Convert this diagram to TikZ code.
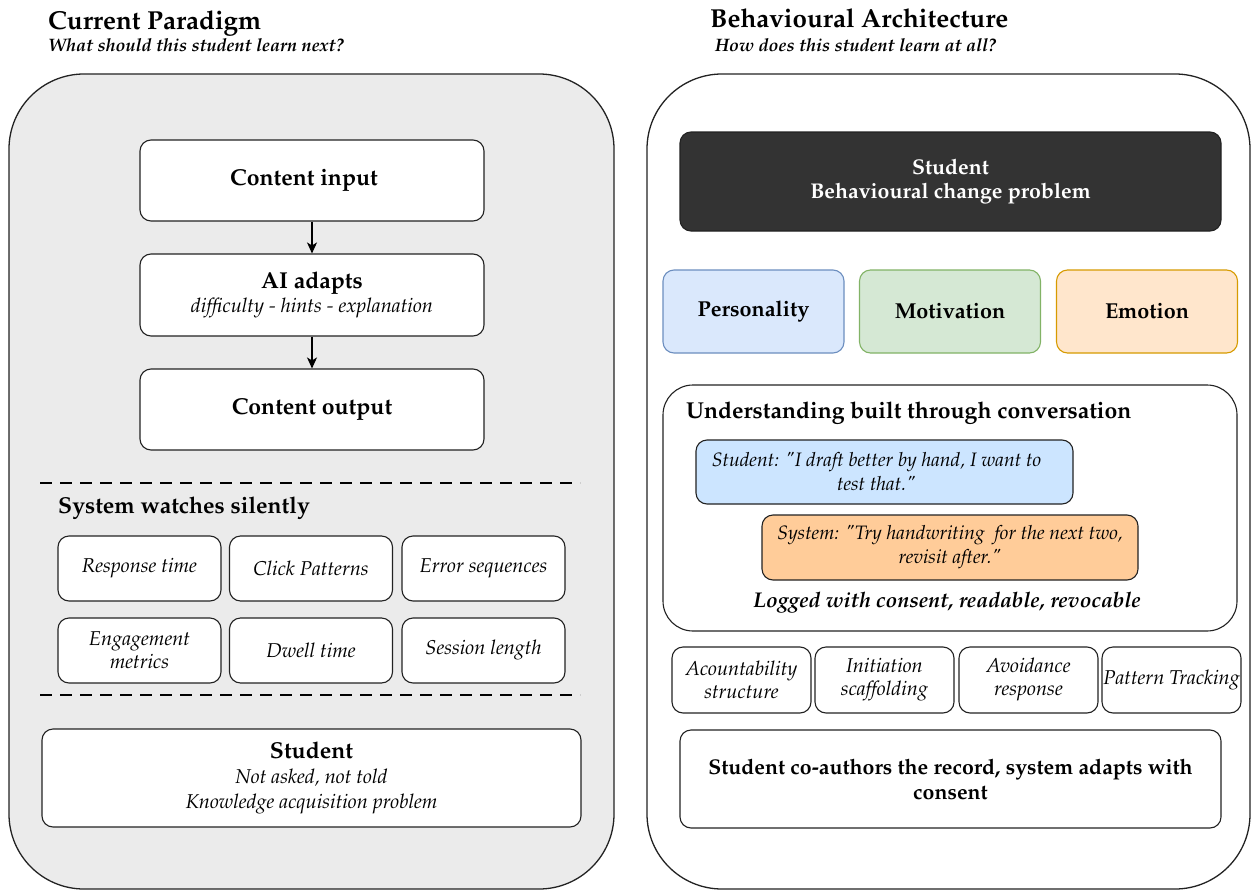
\documentclass[tikz,border=0pt]{standalone}
\usepackage[T1]{fontenc}
\usepackage{mathpazo}
\usetikzlibrary{arrows.meta}
\definecolor{panelgray}{HTML}{EBEBEB}
\definecolor{darkbox}{HTML}{333333}
\definecolor{blueF}{HTML}{DAE8FC}\definecolor{blueD}{HTML}{6C8EBF}
\definecolor{greenF}{HTML}{D5E8D4}\definecolor{greenD}{HTML}{82B366}
\definecolor{orangeF}{HTML}{FFE6CC}\definecolor{orangeD}{HTML}{D79B00}
\definecolor{quoteBlue}{HTML}{CCE5FF}
\definecolor{quoteOrange}{HTML}{FFCC99}
\definecolor{edge}{HTML}{222222}
\newcommand\titlef{\fontsize{26}{30}\selectfont\bfseries}
\newcommand\subf{\fontsize{18}{22}\selectfont\bfseries\itshape}
\newcommand\boxf{\fontsize{23}{26}\selectfont\bfseries}
\newcommand\itf{\fontsize{20}{25}\selectfont\itshape}
\newcommand\smallit{\fontsize{20}{23}\selectfont\itshape}
\begin{document}
\begin{tikzpicture}[x=1pt,y=-1pt,
  panel/.style={draw=edge, line width=1.3pt, rounded corners=75pt},
  box/.style={draw=edge, line width=1.1pt, rounded corners=11pt, fill=white,
    align=center, inner sep=0pt},
  small/.style={box, minimum width=163pt, minimum height=65pt, font=\smallit},
  four/.style={box, minimum width=139pt, minimum height=66pt, font=\smallit},
  colbox/.style={box, minimum width=181pt, minimum height=83pt, font=\fontsize{21.6}{25}\selectfont\bfseries},
  quote/.style={box, font=\fontsize{19.4}{24}\selectfont\itshape},
  arr/.style={-{Stealth[length=11pt,width=10pt,inset=3pt]}, line width=1.1pt, draw=black},
  sep/.style={line width=2.6pt, dash pattern=on 12pt off 8pt}]
\useasboundingbox (0,0) rectangle (1258,891);

% panels
\draw[panel, fill=panelgray] (9,74) rectangle (614,889);
\draw[panel, fill=white] (647,74) rectangle (1250,889);

% titles
\node[anchor=base west, font=\titlef, inner sep=0pt] (t1) at (48,30) {Current Paradigm};
\node[anchor=base west, font=\subf, inner sep=0pt] (s1) at (48,52) {What should this student learn next?};
\node[anchor=base west, font=\titlef, inner sep=0pt] (t2) at (710,28) {Behavioural Architecture};
\node[anchor=base west, font=\subf, inner sep=0pt] (s2) at (715,52) {How does this student learn at all?};

% left flow
\node[box, minimum width=344pt, minimum height=81pt, font=\boxf] (cin) at (312,180.5) {Content input\hspace*{16pt}};
\node[box, minimum width=344pt, minimum height=82pt, font=\fontsize{20}{23.5}\selectfont] (ai) at (312,295)
  {{\boxf AI adapts}\\{\itshape difficulty - hints - explanation}};
\node[box, minimum width=344pt, minimum height=81pt, font=\boxf] (cout) at (312,409.5) {Content output};
\draw[arr] (cin) -- (ai);
\draw[arr] (ai) -- (cout);

\draw[sep] (40,483) -- (580,483);
\node[anchor=base west, font=\boxf, inner sep=0pt] (sw) at (58,513) {System watches silently};

\node[small] (m1) at (139.5,568.5) {Response time};
\node[small] (m2) at (311,568.5) {Click Patterns};
\node[small] (m3) at (483.5,568.5) {Error sequences};
\node[small] (m4) at (139.5,650.5) {Engagement\\metrics};
\node[small] (m5) at (311,650.5) {Dwell time};
\node[small] (m6) at (483.5,650.5) {Session length};

\draw[sep] (40,695) -- (580,695);

\node[box, minimum width=539pt, minimum height=98pt, font=\itf] (stl) at (311.5,778)
  {{\boxf\upshape Student}\\Not asked, not told\\Knowledge acquisition problem};

% right side
\node[box, fill=darkbox, minimum width=541pt, minimum height=99pt, text=white,
  font=\fontsize{21.3}{24}\selectfont\bfseries] (str) at (950.5,181.5)
  {Student\\Behavioural change problem};

\node[colbox, fill=blueF, draw=blueD] (pers) at (753.5,311.5) {Personality};
\node[colbox, fill=greenF, draw=greenD] (moti) at (950,311.5) {Motivation};
\node[colbox, fill=orangeF, draw=orangeD] (emo) at (1147,311.5) {Emotion};

\node[box, rounded corners=30pt, minimum width=574pt, minimum height=246pt] (und) at (950,508) {};
\node[anchor=base west, font=\boxf, inner sep=0pt] (undt) at (686,418) {Understanding built through conversation};
\node[quote, fill=quoteBlue, minimum width=377pt, minimum height=64pt] (q1) at (884.5,472)
  {Student: "I draft better by hand, I want to\hspace*{16pt}\\test that."\hspace*{16pt}};
\node[quote, fill=quoteOrange, minimum width=376pt, minimum height=65pt] (q2) at (950,547.5)
  {System: "Try handwriting\ \ for the next two,\\revisit after."};
\node[font=\fontsize{21.3}{24}\selectfont\bfseries\itshape, inner sep=0pt] (log) at (947,603)
  {Logged with consent, readable, revocable};

\node[four] (f1) at (741.5,680) {Acountability\\structure};
\node[four] (f2) at (884.5,680) {Initiation\\scaffolding};
\node[four] (f3) at (1028.5,680) {Avoidance\\response};
\node[four] (f4) at (1171.5,680) {Pattern Tracking};

\node[box, minimum width=541pt, minimum height=98pt, font=\fontsize{21.3}{25}\selectfont\bfseries] (coa) at (950.5,779)
  {Student co-authors the record, system adapts with\\consent};
\end{tikzpicture}
\end{document}
